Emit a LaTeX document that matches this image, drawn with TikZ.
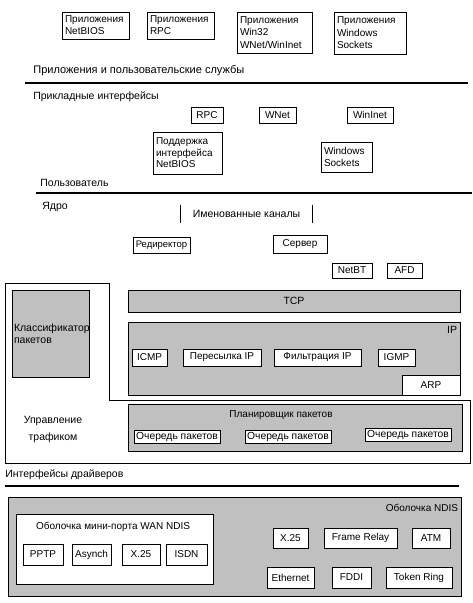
\documentclass[tikz,border=0pt]{standalone}
\usepackage{fontspec}
\setmainfont{Liberation Sans}
\definecolor{wingray}{HTML}{C0C0C0}

\begin{document}
\begin{tikzpicture}[x=1pt,y=-1pt,line width=0.7pt,
    sz/.style 2 args={minimum width=#1pt,minimum height=#2pt},
    box/.style={draw,fill=white,inner sep=1pt,font=\fontsize{10}{11.5}\selectfont},
    gbox/.style={draw,fill=wingray,inner sep=2pt},
    lbl/.style={inner sep=0pt,font=\fontsize{10.5}{12.5}\selectfont},
    rule/.style={line width=1.6pt}]
\useasboundingbox (0,0) rectangle (472,603);

% applications
\node[box,align=left,text width=61pt,minimum height=27pt,inner sep=3pt,font=\fontsize{10}{12}\selectfont] (appnb) at (95.5,25.5) {Приложения\\NetBIOS};
\node[box,align=left,text width=61pt,minimum height=27pt,inner sep=3pt,font=\fontsize{10}{12}\selectfont] (apprpc) at (180.5,25.5) {Приложения\\RPC};
\node[box,align=left,text width=69pt,minimum height=41pt,inner sep=3pt,font=\fontsize{10}{12.5}\selectfont] (appwin) at (274.5,32.5) {Приложения\\Win32\\WNet/WinInet};
\node[box,align=left,text width=66pt,minimum height=42pt,inner sep=3pt,font=\fontsize{10}{12.5}\selectfont] (appsock) at (370,33) {Приложения\\Windows\\Sockets};
\node[lbl,anchor=west,font=\fontsize{11}{13}\selectfont] (lapps) at (33,71) {Приложения и пользовательские службы};
\coordinate (r1a) at (25,83);
\coordinate (r1b) at (468,83);
\draw[rule] (r1a) -- (r1b);

% user-mode interfaces
\node[lbl,anchor=west] (lapi) at (33,97) {Прикладные интерфейсы};
\node[box,sz={32}{16}] (rpc) at (207,115) {RPC};
\node[box,sz={37}{16}] (wnet) at (277.5,115) {WNet};
\node[box,sz={46}{16}] (wininet) at (370,115) {WinInet};
\node[box,align=left,text width=63pt,minimum height=42pt,inner sep=3pt] (nbsup) at (187.5,153) {Поддержка\\интерфейса\\NetBIOS};
\node[box,align=left,text width=45pt,minimum height=30pt,inner sep=3pt] (wsock) at (346.5,157) {Windows\\Sockets};
\node[lbl,anchor=west] (luser) at (40,183) {Пользователь};
\coordinate (r2a) at (36,193);
\coordinate (r2b) at (472,193);
\draw[rule] (r2a) -- (r2b);

% kernel
\node[lbl,anchor=west] (lkern) at (42,207) {Ядро};
\node[inner sep=1pt,sz={131}{18},font=\fontsize{10.5}{12}\selectfont] (pipes) at (246.5,214) {Именованные каналы};
\draw (pipes.north west) -- (pipes.south west);
\draw (pipes.north east) -- (pipes.south east);
\node[box,sz={57}{16},font=\fontsize{9.5}{11}\selectfont] (redir) at (161.5,245) {Редиректор};
\node[box,sz={54}{18}] (server) at (300,244) {Сервер};
\node[box,sz={40}{15}] (netbt) at (352,270.5) {NetBT};
\node[box,sz={35}{15}] (afd) at (404.5,270.5) {AFD};

% traffic control frame
\coordinate (tc1) at (5,283);
\coordinate (tc2) at (109,283);
\coordinate (tc3) at (109,400);
\coordinate (tc4) at (470,400);
\coordinate (tc5) at (470,463);
\coordinate (tc6) at (5,463);
\draw (tc1) -- (tc2) -- (tc3) -- (tc4) -- (tc5) -- (tc6) -- cycle;
\node[gbox,sz={77}{87},align=left,text width=73pt,font=\fontsize{10.5}{12.5}\selectfont] (classif) at (50.5,333.5) {Классификатор\\пакетов\\[8pt]};

% TCP/IP
\node[gbox,sz={332}{22},font=\fontsize{10.5}{12}\selectfont] (tcp) at (294,301) {TCP};
\node[gbox,sz={332}{73}] (ip) at (294,358.5) {};
\node[lbl,anchor=north east] (lip) at ([xshift=-3pt,yshift=-4pt]ip.north east) {IP};
\node[box,sz={35}{17}] (icmp) at (149.5,357.5) {ICMP};
\node[box,sz={78}{17}] (fwd) at (222,357.5) {Пересылка IP};
\node[box,sz={87}{17}] (filt) at (317.5,357.5) {Фильтрация IP};
\node[box,sz={37}{17}] (igmp) at (396.5,357.5) {IGMP};
\node[box,sz={58}{20}] (arp) at (431,385) {ARP};

% packet scheduler
\node[lbl,align=center,font=\fontsize{10.5}{17}\selectfont] (ltc) at (53,429) {Управление\\трафиком};
\node[gbox,sz={334}{47}] (sched) at (295,427.5) {};
\node[lbl,font=\fontsize{10}{12}\selectfont] (lsched) at (281,415) {Планировщик пакетов};
\node[box,sz={86}{13},font=\fontsize{10.3}{11}\selectfont] (q1) at (177,436.5) {Очередь пакетов};
\node[box,sz={86}{13},font=\fontsize{10.3}{11}\selectfont] (q2) at (288,436.5) {Очередь пакетов};
\node[box,sz={86}{13},font=\fontsize{10.3}{11}\selectfont] (q3) at (408,435) {Очередь пакетов};

% drivers
\node[lbl,anchor=west] (ldrv) at (5,475) {Интерфейсы драйверов};
\coordinate (r3a) at (5,486);
\coordinate (r3b) at (459,486);
\draw[rule] (r3a) -- (r3b);
\node[gbox,sz={453}{99}] (ndis) at (234.5,546.5) {};
\node[lbl,anchor=north east,font=\fontsize{10}{12}\selectfont] (lndis) at ([xshift=-3pt,yshift=-7pt]ndis.north east) {Оболочка NDIS};
\node[box,sz={197}{70}] (wan) at (114.5,549) {};
\node[lbl,font=\fontsize{10}{12}\selectfont] (lwan) at (113,527) {Оболочка мини-порта WAN NDIS};
\node[box,sz={40}{21}] (pptp) at (43,554.5) {PPTP};
\node[box,sz={39}{21}] (asynch) at (91.5,554.5) {Asynch};
\node[box,sz={38}{21}] (x25a) at (141,554.5) {X.25};
\node[box,sz={41}{21}] (isdn) at (186.5,554.5) {ISDN};
\node[box,sz={35}{20}] (x25b) at (290.5,538) {X.25};
\node[box,sz={73}{20}] (frame) at (360.5,538) {Frame Relay};
\node[box,sz={38}{20}] (atm) at (431,538) {ATM};
\node[box,sz={47}{21}] (eth) at (290.5,577.5) {Ethernet};
\node[box,sz={39}{21}] (fddi) at (351.5,577.5) {FDDI};
\node[box,sz={66}{21}] (token) at (419,577.5) {Token Ring};
\end{tikzpicture}
\end{document}
